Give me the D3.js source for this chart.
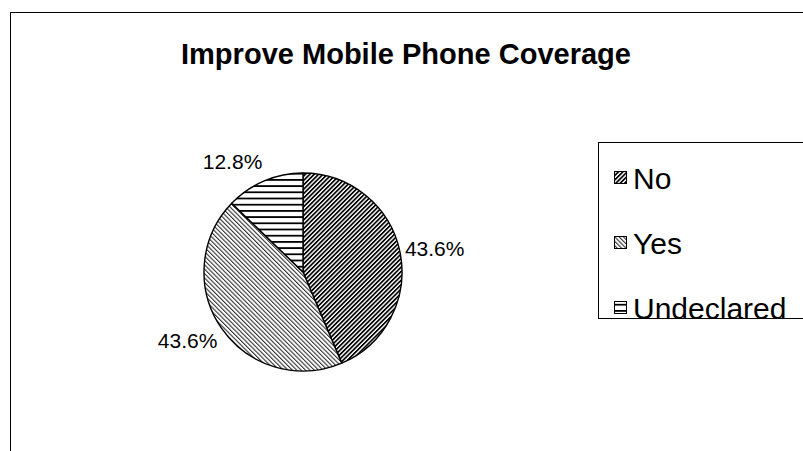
<!DOCTYPE html>
<html>
<head>
<meta charset="utf-8">
<script src="https://cdn.jsdelivr.net/npm/d3@7"></script>
<style>
html,body{margin:0;padding:0;background:#fff;}
svg{display:block;}
text{font-family:"Liberation Sans",Arial,sans-serif;fill:#000;}
</style>
</head>
<body>
<svg id="chart" width="803" height="451"></svg>
<script>
const title = "Improve Mobile Phone Coverage";
const categories = ["No", "Yes", "Undeclared"];
const values = [43.6, 43.6, 12.8];
const labels = ["43.6%", "43.6%", "12.8%"];
const patternIds = ["pNo", "pYes", "pUnd"];

const svg = d3.select("#chart");

// patterns
const defs = svg.append("defs");
function stripe(id, size, thick, angle, color) {
  const p = defs.append("pattern").attr("id", id)
    .attr("patternUnits", "userSpaceOnUse")
    .attr("width", size).attr("height", size)
    .attr("patternTransform", `rotate(${angle})`);
  p.append("rect").attr("width", size).attr("height", size).attr("fill", "#fff");
  p.append("rect").attr("x", 0).attr("y", 0).attr("width", thick).attr("height", size).attr("fill", color);
}
stripe("pNo", 3.1, 1.7, 45, "#000");
stripe("pYes", 3.1, 1.1, -45, "#333");
(function(){
  const p = defs.append("pattern").attr("id", "pUnd")
    .attr("patternUnits", "userSpaceOnUse").attr("width", 6.2).attr("height", 6.2);
  p.append("rect").attr("width", 6.2).attr("height", 6.2).attr("fill", "#fff");
  p.append("rect").attr("x", 0).attr("y", 0).attr("width", 6.2).attr("height", 1.8).attr("fill", "#000");
})();

// chart frame
svg.append("rect").attr("x", 10.5).attr("y", 12.5).attr("width", 820).attr("height", 460)
  .attr("fill", "#fff").attr("stroke", "#000").attr("stroke-width", 1);

svg.append("text").attr("x", 406).attr("y", 64).attr("text-anchor", "middle")
  .attr("font-size", 30).attr("font-weight", "bold")
  .attr("textLength", 450).attr("lengthAdjust", "spacingAndGlyphs")
  .text(title);

// pie
const cx = 303, cy = 272, r = 99;
const pie = d3.pie().sort(null).value(d => d)(values);
const arc = d3.arc().innerRadius(0).outerRadius(r);
const g = svg.append("g").attr("transform", `translate(${cx},${cy})`);
g.selectAll("path.slice").data(pie).enter().append("path")
  .attr("class", "slice")
  .attr("d", arc)
  .attr("fill", (d, i) => `url(#${patternIds[i]})`)
  .attr("stroke", "#000").attr("stroke-width", 1.4).attr("stroke-linejoin", "round");

// labels
const labelR = r + 5;
const fs = 21;
g.selectAll("text.lbl").data(pie).enter().append("text")
  .attr("class", "lbl")
  .attr("font-size", fs)
  .text((d, i) => labels[i])
  .each(function(d) {
    const a = (d.startAngle + d.endAngle) / 2;
    const px = labelR * Math.sin(a), py = -labelR * Math.cos(a);
    const w = this.getComputedTextLength();
    const sx = Math.sin(a) >= 0 ? 1 : -1;
    const ccx = px + sx * w / 2;
    const ccy = py - Math.cos(a) * 16;
    d3.select(this).attr("x", ccx).attr("y", ccy + fs * 0.36).attr("text-anchor", "middle");
  });

// legend
const lg = svg.append("g");
lg.append("rect").attr("x", 598.5).attr("y", 142.5).attr("width", 240).attr("height", 176)
  .attr("fill", "#fff").attr("stroke", "#000").attr("stroke-width", 1);
const ly = d3.scalePoint().domain(categories).range([178, 308]);
categories.forEach((c, i) => {
  const y = ly(c);
  lg.append("rect").attr("x", 614.5).attr("y", y - 6.5).attr("width", 12).attr("height", 12)
    .attr("fill", `url(#${patternIds[i]})`).attr("stroke", "#000").attr("stroke-width", 1);
  lg.append("text").attr("x", 633).attr("y", y + 11).attr("font-size", 30).text(c);
});
</script>
</body>
</html>
